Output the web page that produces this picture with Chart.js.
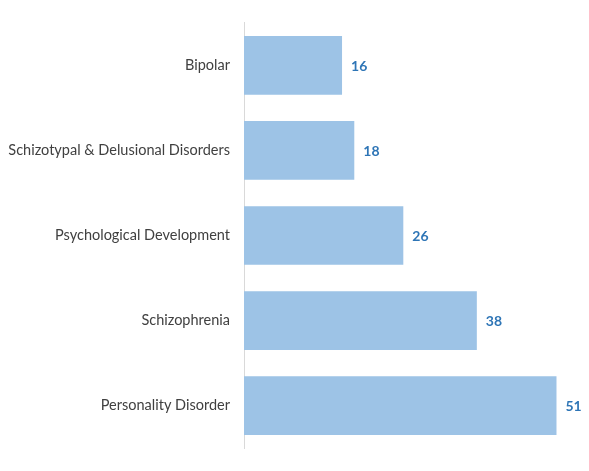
<!DOCTYPE html>
<html><head><meta charset="utf-8">
<script src="https://cdn.jsdelivr.net/npm/chart.js@4/dist/chart.umd.min.js"></script>
<style>html,body{margin:0;padding:0;background:#fff;overflow:hidden}canvas{display:block}</style>
</head><body><canvas id="c" width="589" height="471"></canvas>
<script>
const categories = ['Bipolar', 'Schizotypal & Delusional Disorders', 'Psychological Development', 'Schizophrenia', 'Personality Disorder'];
const values = [16, 18, 26, 38, 51];

const valueLabels = {
    id: 'valueLabels',
    afterDatasetsDraw(chart) {
        const ctx = chart.ctx;
        const meta = chart.getDatasetMeta(0);
        ctx.save();
        ctx.font = 'bold 14px Lato, "Open Sans", sans-serif';
        ctx.fillStyle = '#2e75b6';
        ctx.textBaseline = 'middle';
        meta.data.forEach((bar, i) => ctx.fillText(values[i], bar.x + 9, bar.y + 1));
        ctx.restore();
    }
};

new Chart(document.getElementById('c'), {
    type: 'bar',
    data: { labels: categories, datasets: [{ data: values, backgroundColor: '#9dc3e6', barPercentage: 0.69, categoryPercentage: 1 }] },
    options: {
        indexAxis: 'y', responsive: false, animation: false, devicePixelRatio: 1,
        layout: { padding: { top: 8, bottom: 5, left: 0, right: 8 } },
        plugins: { legend: { display: false }, tooltip: { enabled: false } },
        scales: {
            x: { display: false, min: 0, max: 55 },
            y: {
                afterFit(s) { s.width = 244; },
                grid: { display: false, drawTicks: false },
                border: { color: '#d9d9d9' },
                ticks: { color: '#404040', padding: 14, font: { family: 'Lato, "Open Sans", sans-serif', size: 14.5 } }
            }
        }
    },
    plugins: [valueLabels]
});
</script></body></html>
